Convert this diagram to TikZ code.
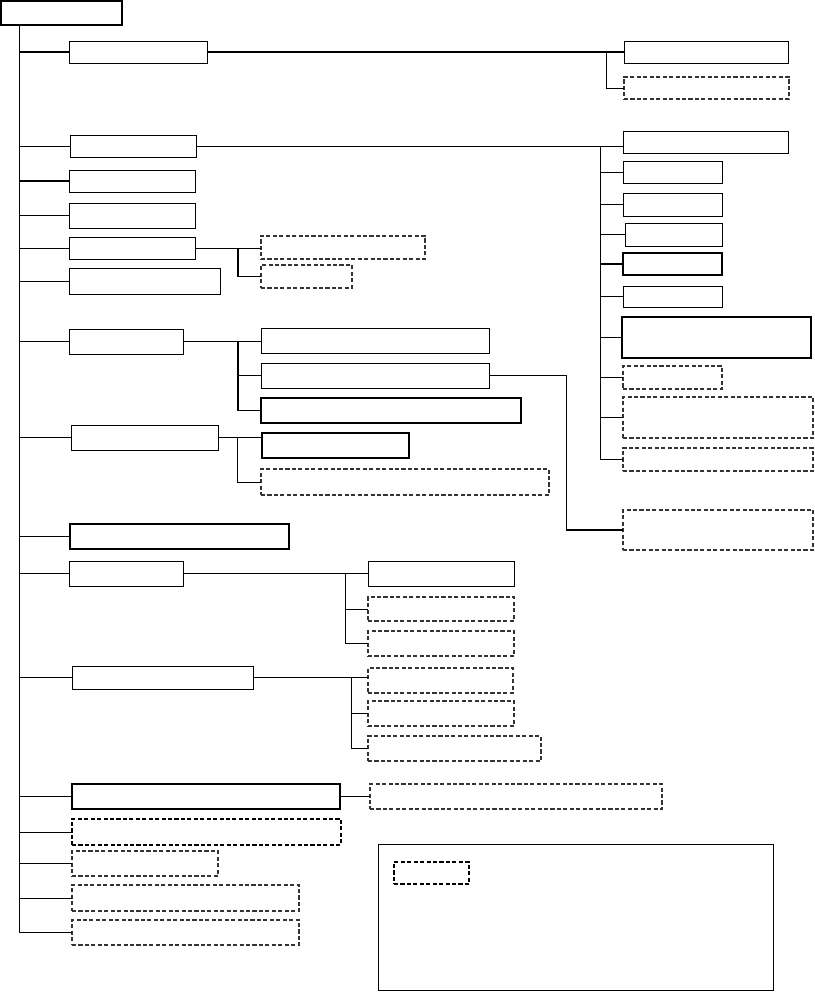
\documentclass[tikz,border=0pt]{standalone}
\usepackage{tikz}
\usetikzlibrary{calc}

\begin{document}
\begin{tikzpicture}[x=0.03cm, y=-0.03cm,
  sz/.style 2 args = {minimum width=#1*0.03cm, minimum height=#2*0.03cm},
  sbox/.style = {draw=black, line width=0.8pt, inner sep=0pt, outer sep=0pt},
  bbox/.style = {sbox, line width=1.25pt},
  dbox/.style = {draw=black!80, line width=1pt, dash pattern=on 3.5pt off 2pt,
                 inner sep=0pt, outer sep=0pt},
  ddbox/.style = {dbox, draw=black, line width=1.5pt},
  link/.style  = {line width=0.8pt},
  blink/.style = {line width=1.5pt}
]
  \useasboundingbox (0,0) rectangle (814,992);

  %% Root and trunk
  \node[bbox, sz={121}{24}] (root) at (61.5,13) {};
  \coordinate (trunk) at (19,25);

  %% First level
  \node[sbox, sz={138}{22}] (A) at (138,52)    {};
  \node[sbox, sz={126}{22}] (B) at (133,146)   {};
  \node[sbox, sz={126}{22}] (C) at (132,181)   {};
  \node[sbox, sz={126}{25}] (D) at (132,215.5) {};
  \node[sbox, sz={126}{22}] (E) at (132,248)   {};
  \node[sbox, sz={151}{26}] (F) at (144.5,281) {};
  \node[sbox, sz={114}{25}] (G) at (126,341.5) {};
  \node[sbox, sz={147}{25}] (H) at (144.5,437.5) {};
  \node[bbox, sz={219}{25}] (I) at (179.5,536.5) {};
  \node[sbox, sz={114}{25}] (J) at (126,573.5) {};
  \node[sbox, sz={181}{23}] (K) at (162.5,677.5) {};
  \node[bbox, sz={268}{25}] (L) at (206,796.5) {};
  \node[ddbox, sz={269}{26}] (M) at (206.5,832) {};
  \node[dbox, sz={146}{25}] (N) at (145,863.5) {};
  \node[dbox, sz={227}{26}] (O) at (185.5,898) {};
  \node[dbox, sz={227}{25}] (P) at (185.5,932.5) {};

  \draw[link] (trunk) -- (trunk |- P.west);
  \foreach \n in {B, D, E, F, G, H, I, J, K, L, M, O}
    \draw[link] (trunk |- \n.west) -- (\n.west);
  \foreach \n in {A, C, N, P}
    \draw[blink] (trunk |- \n.west) -- (\n.west);

  %% A branch
  \node[sbox, sz={164}{22}] (A1) at (706,52)   {};
  \node[dbox, sz={165}{22}] (A2) at (706.5,88) {};
  \coordinate (busA) at (606,0);
  \draw[blink] (A.east) -- (A.east -| A1.west);
  \draw[link] (busA |- A.east) |- (A2.west);

  %% B branch
  \node[sbox, sz={165}{22}] (R1)  at (705.5,142)   {};
  \node[sbox, sz={99}{22}]  (R2)  at (672.5,172)   {};
  \node[sbox, sz={99}{23}]  (R3)  at (672.5,204.5) {};
  \node[sbox, sz={97}{23}]  (R4)  at (673.5,234.5) {};
  \node[bbox, sz={99}{22}]  (R5)  at (672.5,264)   {};
  \node[sbox, sz={99}{21}]  (R6)  at (672.5,296.5) {};
  \node[bbox, sz={189}{41}] (R7)  at (716.5,337.5) {};
  \node[dbox, sz={99}{23}]  (R8)  at (672.5,377.5) {};
  \node[dbox, sz={190}{41}] (R9)  at (718,417.5)   {};
  \node[dbox, sz={190}{23}] (R10) at (718,459.5)   {};
  \node[dbox, sz={190}{40}] (R11) at (718,530)     {};
  \coordinate (busB) at (600,0);
  \draw[link] (B.east) -- (B.east -| R1.west);
  \draw[link] (busB |- B.east) -- (busB |- R10.west);
  \foreach \n in {R2, R3, R4, R6, R7, R8, R9, R10}
    \draw[link] (busB |- \n.west) -- (\n.west);
  \draw[blink] (busB |- R5.west) -- (R5.west);

  %% E branch
  \node[dbox, sz={164}{23}] (E1) at (343,247.5)   {};
  \node[dbox, sz={91}{23}]  (E2) at (306.5,276.5) {};
  \coordinate (busE) at (238,0);
  \draw[link] (E.east) -- (E.east -| E1.west);
  \draw[blink] (busE |- E.east) |- (E2.west);

  %% G branch
  \node[sbox, sz={228}{25}] (G1) at (375,340.5) {};
  \node[sbox, sz={228}{25}] (G2) at (375,375.5) {};
  \node[bbox, sz={260}{25}] (G3) at (391,410.5) {};
  \coordinate (busG) at (238,0);
  \draw[link] (G.east) -- (G.east -| G1.west);
  \draw[blink] (busG |- G.east) |- (G3.west);
  \draw[blink] (busG |- G2.west) -- (G2.west);
  \coordinate (busX) at (566,0);
  \draw[link] (G2.east) -- (busX |- G2.east) -- (busX |- R11.west);
  \draw[blink] (busX |- R11.west) -- (R11.west);

  %% H branch
  \node[bbox, sz={147}{25}] (H1) at (335.5,445.5) {};
  \node[dbox, sz={288}{26}] (H2) at (405,482)     {};
  \coordinate (busH) at (237,0);
  \draw[link] (H.east) -- (H.east -| H1.west);
  \draw[link] (busH |- H.east) |- (H2.west);

  %% J branch
  \node[sbox, sz={146}{25}] (J1) at (441,573.5) {};
  \node[dbox, sz={146}{24}] (J2) at (441,609)   {};
  \node[dbox, sz={146}{25}] (J3) at (441,643.5) {};
  \coordinate (busJ) at (345,0);
  \draw[link] (J.east) -- (J.east -| J1.west);
  \draw[link] (busJ |- J.east) |- (J3.west);
  \draw[link] (busJ |- J2.west) -- (J2.west);

  %% K branch
  \node[dbox, sz={145}{25}] (K1) at (440.5,680.5) {};
  \node[dbox, sz={146}{25}] (K2) at (441,713.5)   {};
  \node[dbox, sz={173}{25}] (K3) at (454.5,748.5) {};
  \coordinate (busK) at (351,0);
  \draw[link] (K.east) -- (K.east -| K1.west);
  \draw[link] (busK |- K.east) |- (K3.west);
  \draw[link] (busK |- K2.west) -- (K2.west);

  %% L branch
  \node[dbox, sz={292}{25}] (L1) at (516,796.5) {};
  \draw[link] (L.east) -- (L1.west);

  %% Legend
  \node[sbox, sz={395}{146}] (legend) at (575.5,917) {};
  \node[ddbox, line width=1.2pt, sz={75}{22}] (legsample) at (431.5,873) {};
\end{tikzpicture}
\end{document}
